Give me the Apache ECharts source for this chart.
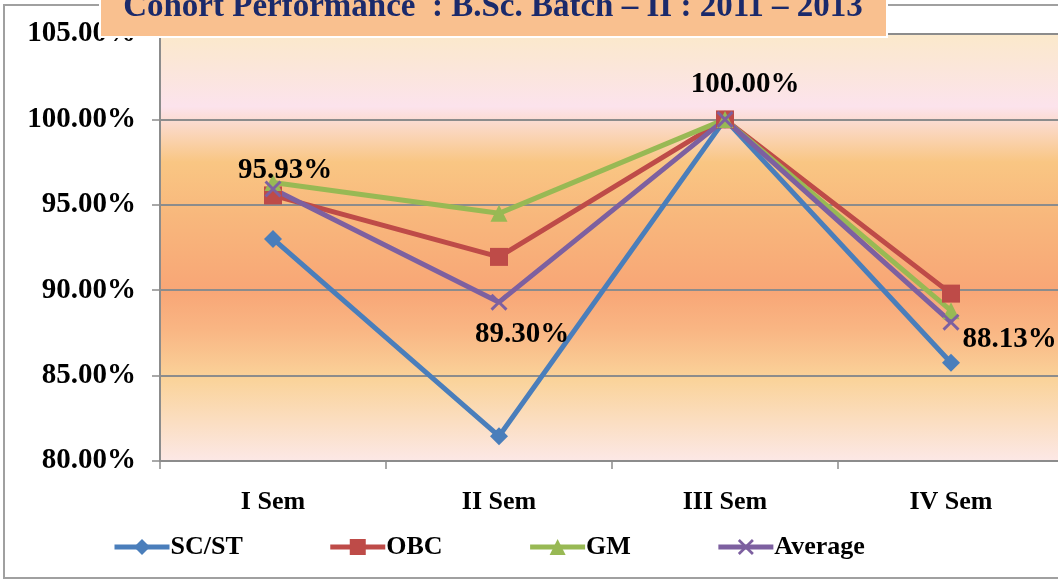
<!DOCTYPE html>
<html>
<head>
<meta charset="utf-8">
<script src="https://cdn.jsdelivr.net/npm/echarts@6/dist/echarts.min.js"></script>
<style>html,body{margin:0;padding:0;background:#fff;overflow:hidden;}#c{width:1064px;height:581px;}</style>
</head>
<body>
<div id="c"></div>
<script>
const titleText = 'Cohort Performance  : B.Sc. Batch – II : 2011 – 2013';
const categories = ['I Sem', 'II Sem', 'III Sem', 'IV Sem'];
const seriesNames = ['SC/ST', 'OBC', 'GM', 'Average'];
const scst = [93.0, 81.45, 100.0, 85.75];
const obc = [95.55, 91.95, 100.0, 89.8];
const gm = [96.3, 94.5, 100.0, 88.8];
const average = [95.93, 89.30, 100.0, 88.13];
const yTicks = [80, 85, 90, 95, 100, 105];

const FONT = '"Liberation Serif", "DejaVu Serif", serif';
const colors = ['#4A7EBB', '#BE4B48', '#98B954', '#7D60A0'];
const crossPath = 'path://M0,1.2 L1.2,0 L5,3.8 L8.8,0 L10,1.2 L6.2,5 L10,8.8 L8.8,10 L5,6.2 L1.2,10 L0,8.8 L3.8,5 Z';

const chart = echarts.init(document.getElementById('c'), null, {renderer: 'canvas'});

const labelPos = [
  {position: 'top', offset: [12, 10]},
  {position: 'bottom', offset: [23, 4]},
  {position: 'top', offset: [20, -7]},
  {position: 'right', offset: [-2, 17]}
];

const avgData = average.map((v, i) => ({
  value: v,
  label: Object.assign({show: true, formatter: p => p.value.toFixed(2) + '%'}, labelPos[i])
}));

function mk(name, data, color, symbol, size) {
  return {
    name: name, type: 'line', data: data,
    symbol: symbol, symbolSize: size,
    lineStyle: {color: color, width: 5},
    itemStyle: {color: color},
    label: {show: false, color: '#000', fontFamily: FONT, fontWeight: 'bold', fontSize: 29},
    emphasis: {disabled: true},
    animation: false
  };
}

chart.setOption({
  animation: false,
  color: colors,
  grid: {
    left: 160, top: 34, right: 0, height: 427,
    show: true, borderWidth: 0,
    backgroundColor: new echarts.graphic.LinearGradient(0, 0, 0, 1, [
      {offset: 0, color: '#FBE9CB'},
      {offset: 0.08, color: '#FBE6DA'},
      {offset: 0.17, color: '#FCE3EC'},
      {offset: 0.30, color: '#F9C683'},
      {offset: 0.43, color: '#F8B77C'},
      {offset: 0.60, color: '#F8A676'},
      {offset: 0.69, color: '#F9B583'},
      {offset: 0.81, color: '#FAD39A'},
      {offset: 1, color: '#FCE8E6'}
    ])
  },
  xAxis: {
    type: 'category', data: categories, boundaryGap: true,
    axisLine: {lineStyle: {color: '#8C8C8C', width: 2}},
    axisTick: {show: true, length: 8, lineStyle: {color: '#8C8C8C', width: 1.5}},
    axisLabel: {color: '#000', fontFamily: FONT, fontWeight: 'bold', fontSize: 26, margin: 28}
  },
  yAxis: {
    type: 'value', min: yTicks[0], max: yTicks[yTicks.length - 1], interval: 5,
    axisLine: {show: true, lineStyle: {color: '#8C8C8C', width: 2}},
    axisTick: {show: true, length: 8, lineStyle: {color: '#8C8C8C', width: 1.5}},
    splitLine: {show: true, lineStyle: {color: '#8C8C8C', width: 2}},
    axisLabel: {color: '#000', fontFamily: FONT, fontWeight: 'bold', fontSize: 29, margin: 24,
      formatter: v => v.toFixed(2) + '%'}
  },
  legend: {
    left: 112, top: 534, padding: 0,
    itemWidth: 55, itemHeight: 20, itemGap: 85,
    lineStyle: {width: 5},
    textStyle: {color: '#000', fontFamily: FONT, fontWeight: 'bold', fontSize: 26, padding: [0, 0, 0, -4]},
    data: seriesNames
  },
  series: [
    mk(seriesNames[0], scst, colors[0], 'diamond', 18),
    mk(seriesNames[1], obc, colors[1], 'rect', 18),
    mk(seriesNames[2], gm, colors[2], 'triangle', 17),
    mk(seriesNames[3], avgData, colors[3], crossPath, 17)
  ],
  graphic: [
    {type: 'rect', z: -10, silent: true,
      shape: {x: 4, y: 5, width: 1100, height: 573},
      style: {fill: 'none', stroke: '#A0A0A0', lineWidth: 2}},
    {type: 'rect', z: 100, silent: true,
      shape: {x: 100, y: -10, width: 787, height: 47},
      style: {fill: '#F9C08F', stroke: '#FFFFFF', lineWidth: 2}},
    {type: 'text', z: 101, silent: true, x: 493, y: 7,
      style: {text: titleText, fill: '#1B2A6B', font: 'bold 33px ' + FONT,
        align: 'center', verticalAlign: 'middle'}}
  ]
});
</script>
</body>
</html>
